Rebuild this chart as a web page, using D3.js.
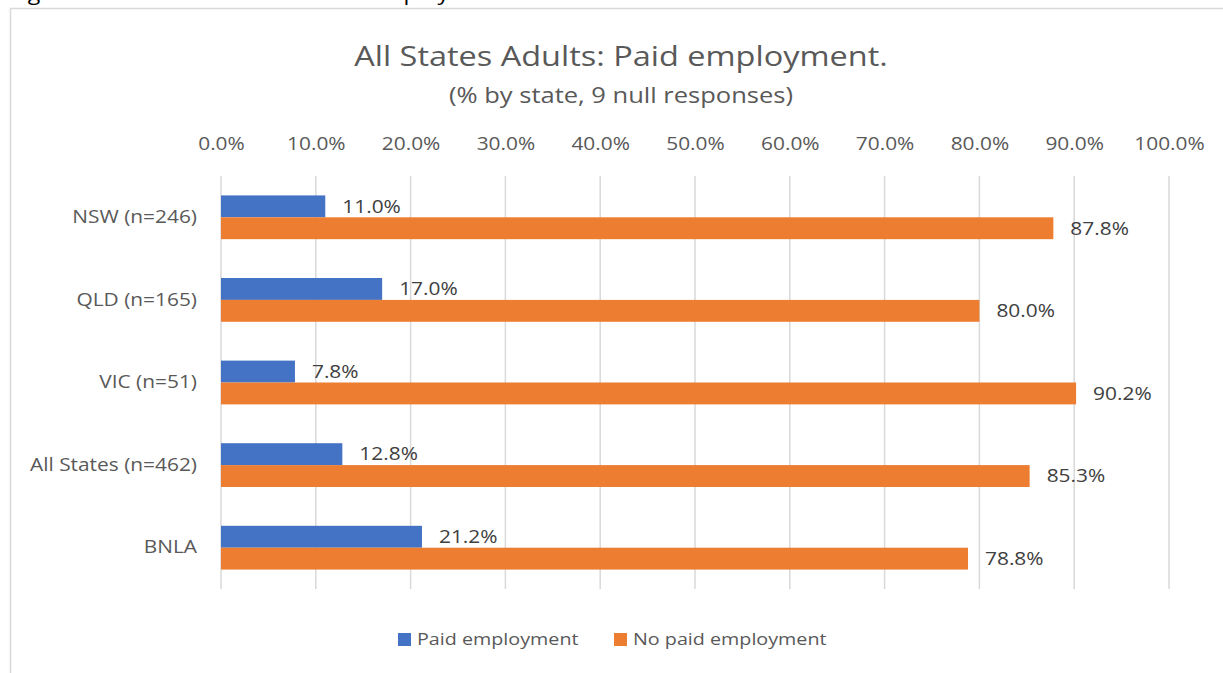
<!DOCTYPE html>
<html>
<head>
<meta charset="utf-8">
<script src="https://cdn.jsdelivr.net/npm/d3@7"></script>
<style>
  body { margin: 0; background: #fff; }
  svg { display: block; font-family: "Open Sans", sans-serif; }
</style>
</head>
<body>
<svg id="chart" width="1223" height="673"></svg>
<script>
// data
var categories = ["NSW (n=246)", "QLD (n=165)", "VIC (n=51)", "All States (n=462)", "BNLA"];
var seriesNames = ["Paid employment", "No paid employment"];
var paidValues = [11.0, 17.0, 7.8, 12.8, 21.2];
var noPaidValues = [87.8, 80.0, 90.2, 85.3, 78.8];
var tickValues = [0, 10, 20, 30, 40, 50, 60, 70, 80, 90, 100];
var colors = ["#4472c4", "#ed7d31"];

// the reference text is a bit wider than Open Sans
var stretch = 1.16;

var svg = d3.select("#chart");

// put a text at (x, y) and widen it around that point
function placeText(sel, x, y) {
	sel.attr("x", 0).attr("y", 0)
		.attr("transform", "translate(" + x + "," + y + ") scale(" + stretch + ",1)");
	return sel;
}

// figure caption cut off at the top of the picture
svg.append("text")
	.call(placeText, 10, 0)
	.attr("fill", "#000")
	.style("font-size", "20px")
	.text("Figure 4: Adults in all states: Paid employment");

// chart border (runs off the right and bottom edge)
svg.append("rect")
	.attr("x", 10.5)
	.attr("y", 8.5)
	.attr("width", 1240)
	.attr("height", 700)
	.attr("fill", "#fff")
	.attr("stroke", "#d9d9d9")
	.attr("stroke-width", 1.5);

// titles
svg.append("text")
	.call(placeText, 621, 66)
	.attr("text-anchor", "middle")
	.attr("fill", "#595959")
	.style("font-size", "28px")
	.text("All States Adults: Paid employment.");

svg.append("text")
	.call(placeText, 621, 103)
	.attr("text-anchor", "middle")
	.attr("fill", "#595959")
	.style("font-size", "22px")
	.text("(% by state, 9 null responses)");

var margin = {left: 221, right: 1169, top: 176, bottom: 589};

var x = d3.scaleLinear().domain([0, 100]).range([margin.left, margin.right]);
var y = d3.scaleBand().domain(categories).range([margin.top, margin.bottom]).paddingInner(0.47).paddingOuter(0.235);
var ySub = d3.scaleBand().domain(seriesNames).range([0, y.bandwidth()]);

// gridlines
svg.append("g")
	.selectAll("line")
	.data(tickValues)
	.enter()
		.append("line")
			.attr("x1", function(d) { return x(d); })
			.attr("x2", function(d) { return x(d); })
			.attr("y1", margin.top)
			.attr("y2", margin.bottom)
			.attr("stroke", "#d9d9d9")
			.attr("stroke-width", 1.5);

// top axis
var xAxis = d3.axisTop(x)
	.tickValues(tickValues)
	.tickSize(0)
	.tickPadding(0)
	.tickFormat(function(d) { return d3.format(".1f")(d) + "%"; });

var gx = svg.append("g")
	.attr("transform", "translate(0,150)")
	.call(xAxis);
gx.select(".domain").remove();
gx.selectAll("text")
	.attr("transform", "scale(" + stretch + ",1)")
	.attr("fill", "#595959")
	.style("font-family", "'Open Sans', sans-serif")
	.style("font-size", "18px");

// category axis
var yAxis = d3.axisLeft(y).tickSize(0).tickPadding(0);
var gy = svg.append("g")
	.attr("transform", "translate(197,0)")
	.call(yAxis);
gy.select(".domain").remove();
gy.selectAll("text")
	.attr("transform", "scale(" + stretch + ",1)")
	.attr("fill", "#595959")
	.style("font-family", "'Open Sans', sans-serif")
	.style("font-size", "18px");

// bars
var rows = categories.map(function(c, i) {
	return {cat: c, values: [
		{series: seriesNames[0], value: paidValues[i]},
		{series: seriesNames[1], value: noPaidValues[i]}
	]};
});

var groups = svg.append("g")
	.selectAll(".datagroup")
	.data(rows)
	.enter()
		.append("g")
			.attr("class", "datagroup")
			.attr("transform", function(d) { return "translate(0," + y(d.cat) + ")"; });

groups.selectAll("rect")
	.data(function(d) { return d.values; })
	.enter()
		.append("rect")
			.attr("x", x(0))
			.attr("y", function(d) { return ySub(d.series); })
			.attr("width", function(d) { return x(d.value) - x(0); })
			.attr("height", ySub.bandwidth())
			.attr("fill", function(d, i) { return colors[i]; });

groups.selectAll("text")
	.data(function(d) { return d.values; })
	.enter()
		.append("text")
			.each(function(d) {
				placeText(d3.select(this), x(d.value) + 17, ySub(d.series) + ySub.bandwidth() / 2);
			})
			.attr("dy", "0.35em")
			.attr("fill", "#404040")
			.style("font-size", "18px")
			.text(function(d) { return d3.format(".1f")(d.value) + "%"; });

// legend
var legendX = [398, 614];
var legend = svg.append("g")
	.selectAll("g")
	.data(seriesNames)
	.enter()
		.append("g")
			.attr("transform", function(d, i) { return "translate(" + legendX[i] + ",633)"; });

legend.append("rect")
	.attr("width", 13)
	.attr("height", 13)
	.attr("fill", function(d, i) { return colors[i]; });

legend.append("text")
	.call(placeText, 19, 6.5)
	.attr("dy", "0.35em")
	.attr("fill", "#595959")
	.style("font-size", "17px")
	.text(function(d) { return d; });
</script>
</body>
</html>
